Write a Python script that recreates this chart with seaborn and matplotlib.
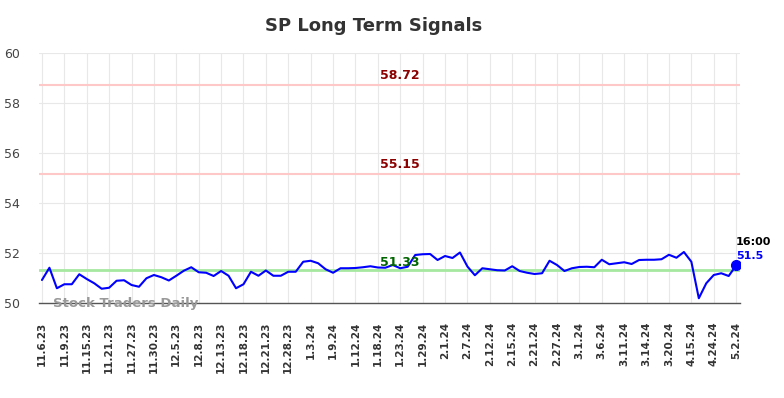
import pandas as pd
import seaborn as sns
import matplotlib.pyplot as plt

## closing values, one every trading sample
prices = [50.92, 51.41, 50.59, 50.75, 50.75, 51.15, 50.96, 50.79, 50.57, 50.61,
          50.89, 50.91, 50.72, 50.65, 50.99, 51.12, 51.03, 50.9, 51.09, 51.29,
          51.43, 51.23, 51.21, 51.08, 51.28, 51.09, 50.59, 50.75, 51.25, 51.09,
          51.3, 51.09, 51.09, 51.25, 51.25, 51.65, 51.69, 51.59, 51.35, 51.21,
          51.39, 51.39, 51.4, 51.43, 51.47, 51.42, 51.41, 51.52, 51.39, 51.45,
          51.92, 51.95, 51.96, 51.72, 51.88, 51.8, 52.02, 51.46, 51.11, 51.39,
          51.35, 51.31, 51.3, 51.47, 51.28, 51.21, 51.16, 51.19, 51.69, 51.52,
          51.28, 51.39, 51.44, 51.45, 51.43, 51.73, 51.55, 51.59, 51.63, 51.56,
          51.72, 51.73, 51.73, 51.75, 51.93, 51.81, 52.04, 51.65, 50.19, 50.79,
          51.12, 51.19, 51.08, 51.5]

tick_labels = ['11.6.23', '11.9.23', '11.15.23', '11.21.23', '11.27.23', '11.30.23',
               '12.5.23', '12.8.23', '12.13.23', '12.18.23', '12.21.23', '12.28.23',
               '1.3.24', '1.9.24', '1.12.24', '1.18.24', '1.23.24', '1.29.24',
               '2.1.24', '2.7.24', '2.12.24', '2.15.24', '2.21.24', '2.27.24',
               '3.1.24', '3.6.24', '3.11.24', '3.14.24', '3.20.24', '4.15.24',
               '4.24.24', '5.2.24']

upper_level = 58.72
mid_level = 55.15
low_level = 51.33
last_time = '16:00'

df = pd.DataFrame({'idx': range(len(prices)), 'price': prices})

sns.set_style('whitegrid', {'grid.color': '#e8e8e8'})
plt.rcParams['font.family'] = ['DejaVu Sans']

f = plt.figure(figsize=(7.84, 3.98), dpi=100)
ax = f.add_axes([0.0497, 0.2387, 0.8944, 0.6281])

ax.axhline(upper_level, color='#ffc8c8', lw=1.5, zorder=1)
ax.axhline(mid_level, color='#ffc8c8', lw=1.5, zorder=1)
ax.axhline(low_level, color='#a6e8a0', lw=2, zorder=1)

sns.lineplot(data=df, x='idx', y='price', ax=ax, color='#0000ff', lw=1.5, zorder=3)
ax.plot(df['idx'].iloc[-1], df['price'].iloc[-1], 'o', color='#0000ff', ms=7, zorder=4)

mid_x = 48
ax.text(mid_x, upper_level + 0.12, '{:.2f}'.format(upper_level), color='#8b0000',
        fontsize=9, fontweight='bold', ha='center', va='bottom')
ax.text(mid_x, mid_level + 0.12, '{:.2f}'.format(mid_level), color='#8b0000',
        fontsize=9, fontweight='bold', ha='center', va='bottom')
ax.text(mid_x, low_level + 0.02, '{:.2f}'.format(low_level), color='#006400',
        fontsize=9, fontweight='bold', ha='center', va='bottom')

n = len(prices) - 1
ax.text(n + 0.0, df['price'].iloc[-1] + 0.95, last_time, color='black',
        fontsize=8, fontweight='bold', ha='left', va='center')
ax.text(n + 0.0, df['price'].iloc[-1] + 0.4, '{}'.format(df['price'].iloc[-1]), color='#0000ff',
        fontsize=8, fontweight='bold', ha='left', va='center')

ax.text(1.5, 49.98, 'Stock Traders Daily', color='#999999', fontsize=9.5,
        fontweight='bold', ha='left', va='center', zorder=5)

ax.set_xlim(-0.4, n + 0.54)
ax.set_ylim(50, 60)
ax.set_yticks(range(50, 61, 2))
ax.set_xticks(range(0, len(prices), 3))
ax.set_xticklabels(tick_labels, rotation=90, fontsize=7.5, fontweight='bold', color='#333333')
ax.tick_params(axis='x', pad=10)
ax.tick_params(axis='y', labelsize=9, colors='#444444', pad=10)
ax.set_xlabel('')
ax.set_ylabel('')

for side in ('left', 'right', 'top'):
    ax.spines[side].set_visible(False)
ax.spines['bottom'].set_color('#555555')
ax.spines['bottom'].set_linewidth(1)

f.text(374 / 784, 1 - 26 / 398, 'SP Long Term Signals', fontsize=13, fontweight='bold',
       color='#333333', ha='center', va='center')

f.savefig('out.png', dpi=100)
